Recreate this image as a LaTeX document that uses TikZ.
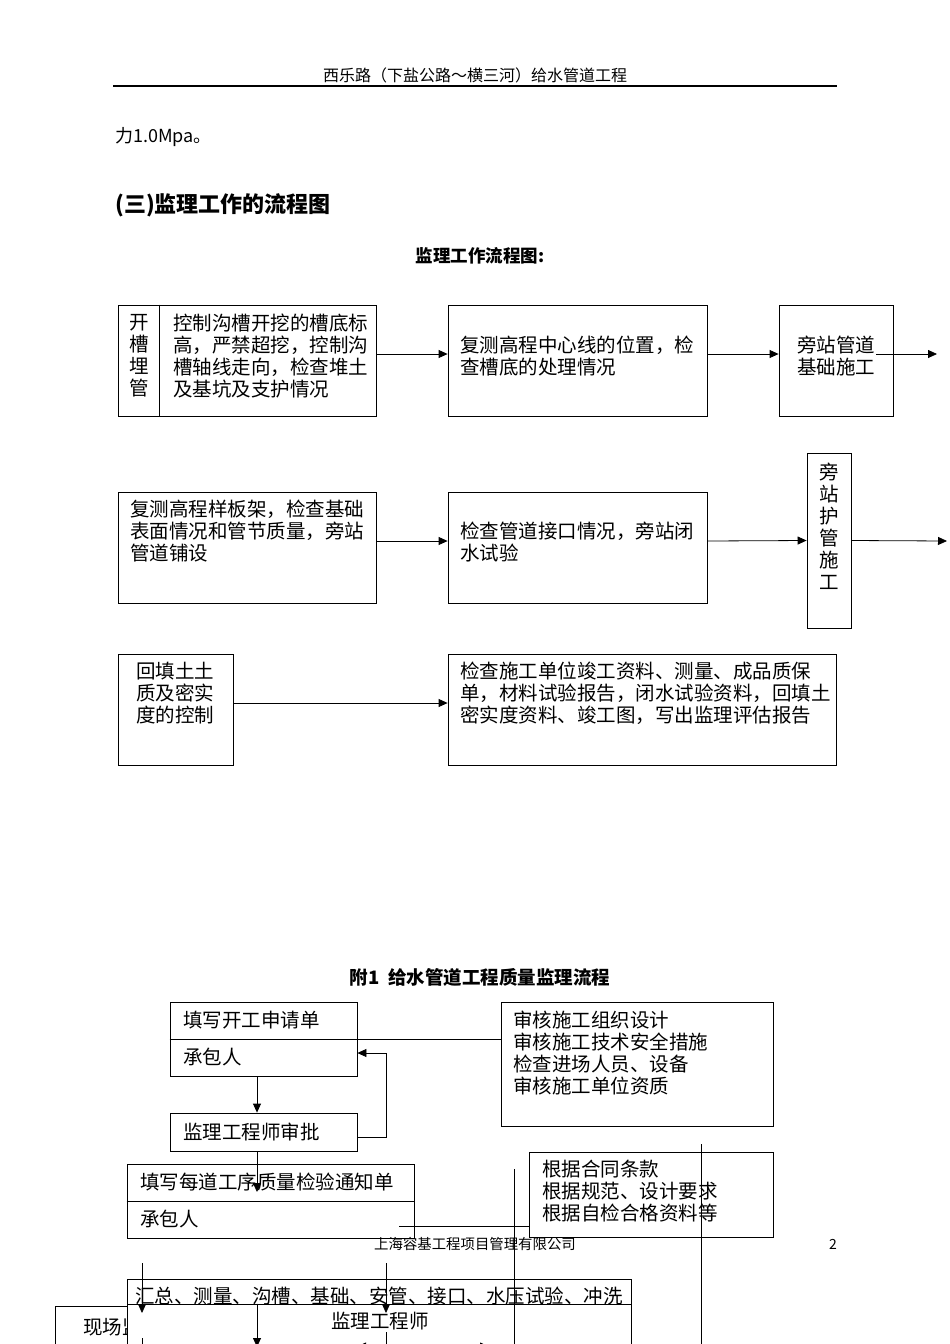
\documentclass[tikz,border=0pt]{standalone}
\usepackage{fontspec}
\setmainfont{Noto Sans CJK SC}
\usetikzlibrary{arrows.meta}

\begin{document}
\begin{tikzpicture}[x=1pt,y=-1pt,
  box/.style={draw,line width=0.8pt,inner sep=0pt},
  txt/.style={inner sep=0pt,align=left,font=\fontsize{19.5}{22}\selectfont},
  ctxt/.style={inner sep=0pt,align=center,font=\fontsize{19.5}{22}\selectfont},
  arr/.style={-{Triangle[length=9pt,width=8pt]},line width=0.8pt},
  ln/.style={line width=0.8pt}]
  \useasboundingbox (0,0) rectangle (950,1344);

  % Page head
  \node[inner sep=0pt,font=\fontsize{16}{18}\selectfont] (head) at (475,75) {西乐路（下盐公路～横三河）给水管道工程};
  \coordinate (hl) at (113,86);
  \coordinate (hr) at (837,86);
  \draw[line width=1.5pt] (hl) -- (hr);
  \node[anchor=west,inner sep=0pt,font=\fontsize{18}{20}\selectfont] (press) at (115,137) {力1.0Mpa。};
  \node[anchor=west,inner sep=0pt,font=\fontsize{22}{24}\selectfont\bfseries] (sec3) at (115,205) {(三)监理工作的流程图};
  \node[inner sep=0pt,font=\fontsize{17.5}{20}\selectfont\bfseries] (title1) at (480,256) {监理工作流程图:};

  % Row 1
  \node[box,minimum width=258pt,minimum height=111pt] (kc) at (247,360.5) {};
  \draw[ln] ([xshift=42pt]kc.north west) -- ([xshift=42pt]kc.south west);
  \node[ctxt,anchor=north] (kcl) at (139,314) {开\\槽\\埋\\管};
  \node[txt,anchor=north west] (kct) at (173,314) {控制沟槽开挖的槽底标\\高，严禁超挖，控制沟\\槽轴线走向，检查堆土\\及基坑及支护情况};
  \node[box,minimum width=259pt,minimum height=111pt] (fc) at (577.5,360.5) {};
  \node[txt,anchor=north west] (fct) at (460,336) {复测高程中心线的位置，检\\查槽底的处理情况};
  \node[box,minimum width=114pt,minimum height=111pt] (jc) at (836,360.5) {};
  \node[ctxt,anchor=north] (jct) at (836,336) {旁站管道\\基础施工};
  \coordinate (out1) at (937,354);
  \draw[arr] ([yshift=6.5pt]kc.east) -- ([yshift=6.5pt]fc.west);
  \draw[arr] ([yshift=6.5pt]fc.east) -- ([yshift=6.5pt]jc.west);
  \draw[arr] ([xshift=-17pt,yshift=6.5pt]jc.east) -- (out1);

  % Row 2
  \node[box,minimum width=258pt,minimum height=111pt] (pb) at (247,547.5) {};
  \node[txt,anchor=north west] (pbt) at (130,500) {复测高程样板架，检查基础\\表面情况和管节质量，旁站\\管道铺设};
  \node[box,minimum width=259pt,minimum height=111pt] (jk) at (577.5,547.5) {};
  \node[txt,anchor=north west] (jkt) at (460,522) {检查管道接口情况，旁站闭\\水试验};
  \node[box,minimum width=44pt,minimum height=175pt] (hg) at (829,540.5) {};
  \node[ctxt,anchor=north] (hgt) at (829,463) {旁\\站\\护\\管\\施\\工};
  \coordinate (out2) at (947,541);
  \draw[arr] ([yshift=6.5pt]pb.east) -- ([yshift=6.5pt]jk.west);
  \draw[arr] ([yshift=6.5pt]jk.east) -- (hg.west);
  \draw[arr] (hg.east) -- (out2);

  % Row 3
  \node[box,minimum width=115pt,minimum height=111pt] (ht) at (175.5,709.5) {};
  \node[ctxt,anchor=north] (htt) at (175,662) {回填土土\\质及密实\\度的控制};
  \node[box,minimum width=388pt,minimum height=111pt] (jg) at (642,709.5) {};
  \node[txt,anchor=north west] (jgt) at (460,662) {检查施工单位竣工资料、测量、成品质保\\单，材料试验报告，闭水试验资料，回填土\\密实度资料、竣工图，写出监理评估报告};
  \draw[arr] ([yshift=6.5pt]ht.east) -- ([yshift=6.5pt]jg.west);

  % Appendix 1
  \node[inner sep=0pt,font=\fontsize{18.5}{20}\selectfont\bfseries] (title2) at (480,977) {附1\ \ 给水管道工程质量监理流程};
  \node[box,minimum width=187pt,minimum height=74pt] (sq) at (263.5,1039) {};
  \draw[ln] (sq.west) -- (sq.east);
  \node[txt,anchor=west] (sqt) at (183,1020) {填写开工申请单};
  \node[txt,anchor=west] (sqc) at (183,1057) {承包人};
  \node[box,minimum width=272pt,minimum height=124pt] (sh) at (637,1064) {};
  \node[txt,anchor=north west] (sht) at (513,1011) {审核施工组织设计\\审核施工技术安全措施\\检查进场人员、设备\\审核施工单位资质};
  \draw[ln] (sq.east) -- (sh.west |- sq.east);
  \node[box,minimum width=187pt,minimum height=38pt] (sp) at (263.5,1132) {};
  \node[txt,anchor=west] (spt) at (183,1132) {监理工程师审批};
  \draw[arr] ([xshift=-6.5pt]sq.south) -- ([xshift=-6.5pt]sp.north);
  \draw[arr] ([yshift=-5pt]sp.east) -- ++(29,0) |- ([yshift=-14pt]sq.east);

  \node[box,minimum width=287pt,minimum height=74pt] (tz) at (270.5,1201) {};
  \draw[ln] (tz.west) -- (tz.east);
  \node[txt,anchor=west] (tzt) at (140,1182) {填写每道工序质量检验通知单};
  \node[txt,anchor=west] (tzc) at (140,1219) {承包人};
  \coordinate (tip1) at (257,1192);
  \draw[arr] ([xshift=-6.5pt]sp.south) -- (tip1);
  \node[box,minimum width=244pt,minimum height=85pt] (gj) at (651,1194.5) {};
  \node[txt,anchor=north west] (gjt) at (542,1160) {根据合同条款\\根据规范、设计要求\\根据自检合格资料等};
  \coordinate (c1) at (399,1226);
  \draw[ln] (c1) -- (gj.west |- c1);

  % Page foot
  \node[inner sep=0pt,font=\fontsize{14.4}{16}\selectfont] (foot) at (475,1244) {上海容基工程项目管理有限公司};
  \node[inner sep=0pt,font=\fontsize{14}{16}\selectfont] (pgno) at (833,1244) {2};

  % Next page
  \node[box,fill=white,minimum width=145pt,minimum height=74pt] (xc) at (127.5,1343) {};
  \node[txt,anchor=west] (xct) at (83,1327) {现场监};
  \node[box,fill=white,minimum width=504pt,minimum height=76pt] (jl) at (379,1342) {};
  \node[box,minimum width=504pt,minimum height=25pt] (hz) at (379,1291.5) {};
  \node[ctxt] (hzt) at (379,1296) {汇总、测量、沟槽、基础、安管、接口、水压试验、冲洗};
  \node[ctxt] (jlt) at (380,1321) {监理工程师};
  \coordinate (a1) at (142,1263);
  \coordinate (a2) at (142,1313);
  \coordinate (a3) at (386,1263);
  \coordinate (a4) at (386,1313);
  \draw[arr] (a1) -- (a2);
  \draw[arr] (a3) -- (a4);
  \draw[ln] (142,1338) -- (142,1350);
  \draw[ln] (386,1332) -- (386,1350);
  \coordinate (b1) at (257,1347);
  \draw[arr] ([xshift=-122pt]jl.north) -- (b1);
  \coordinate (h0) at (386,1346.5);
  \coordinate (h1) at (357,1346.5);
  \coordinate (h2) at (489,1346.5);
  \draw[arr] (h0) -- (h1);
  \draw[arr] (h0) -- (h2);

  % Long lines
  \coordinate (v1a) at (514,1169);
  \coordinate (v1b) at (514,1350);
  \coordinate (v2a) at (701,1144);
  \coordinate (v2b) at (701,1350);
  \draw[ln] (v1a) -- (v1b);
  \draw[ln] (v2a) -- (v2b);
\end{tikzpicture}
\end{document}
